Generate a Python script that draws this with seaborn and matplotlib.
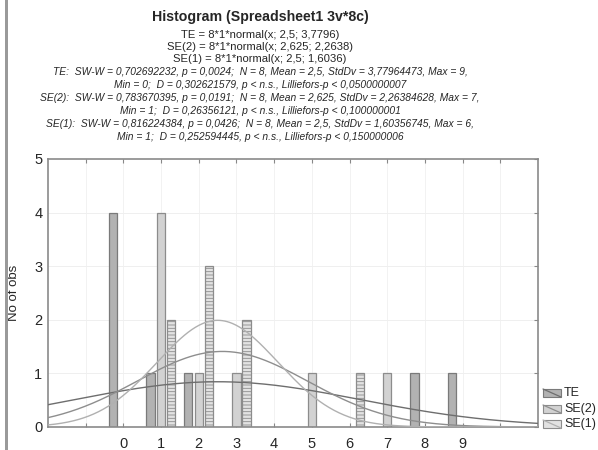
import numpy as np
import pandas as pd
import matplotlib
matplotlib.use("Agg")
import matplotlib.pyplot as plt
from matplotlib.patches import Rectangle
from matplotlib.lines import Line2D
import seaborn as sns

# ---- data ----
categories = [0, 1, 2, 3, 4, 5, 6, 7, 8, 9]
te_counts  = [4, 1, 1, 0, 0, 0, 0, 0, 1, 1]
se2_counts = [0, 4, 1, 1, 0, 1, 0, 1, 0, 0]
se1_counts = [0, 2, 3, 2, 0, 0, 1, 0, 0, 0]
series_names = ["TE", "SE(2)", "SE(1)"]
means = [2.5, 2.625, 2.5]
sds = [3.7796, 2.2638, 1.6036]
n_obs = 8
x_ticklabels = ["0", "1", "2", "3", "4", "5", "6", "7", "8", "9"]

title = "Histogram (Spreadsheet1 3v*8c)"
formula_lines = [
    "TE = 8*1*normal(x; 2,5; 3,7796)",
    "SE(2) = 8*1*normal(x; 2,625; 2,2638)",
    "SE(1) = 8*1*normal(x; 2,5; 1,6036)",
]
stat_lines = [
    "TE:  SW-W = 0,702692232, p = 0,0024;  N = 8, Mean = 2,5, StdDv = 3,77964473, Max = 9,",
    "Min = 0;  D = 0,302621579, p < n.s., Lilliefors-p < 0,0500000007",
    "SE(2):  SW-W = 0,783670395, p = 0,0191;  N = 8, Mean = 2,625, StdDv = 2,26384628, Max = 7,",
    "Min = 1;  D = 0,26356121, p < n.s., Lilliefors-p < 0,100000001",
    "SE(1):  SW-W = 0,816224384, p = 0,0426;  N = 8, Mean = 2,5, StdDv = 1,60356745, Max = 6,",
    "Min = 1;  D = 0,252594445, p < n.s., Lilliefors-p < 0,150000006",
]

# ---- style ----
sns.set_style("white")
plt.rcParams["font.family"] = ["Liberation Sans", "DejaVu Sans"]
plt.rcParams["hatch.color"] = "#9a9a9a"
plt.rcParams["hatch.linewidth"] = 0.6

W, H = 598, 450
fig = plt.figure(figsize=(W / 100, H / 100), dpi=100)
fig.patch.set_facecolor("white")

left, right, top, bottom = 48, 538, 159, 427
ax = fig.add_axes([left / W, 1 - bottom / H, (right - left) / W, (bottom - top) / H])

bar_fills = ["#b2b2b2", "#d2d2d2", "#e2e2e2"]
bar_edges = ["#7a7a7a", "#8c8c8c", "#8c8c8c"]
hatches = [None, None, "-----"]
line_colors = ["#6e6e6e", "#8e8e8e", "#b0b0b0"]
offsets = [-0.28, 0.0, 0.27]
bw = 0.22

# gridlines
for yv in range(1, 5):
    ax.axhline(yv, color="#ececec", lw=0.6, zorder=0)
for xv in range(-1, 11):
    ax.axvline(xv, color="#f0f0f0", lw=0.6, zorder=0)

all_counts = [te_counts, se2_counts, se1_counts]
rows = []
for name, counts, off in zip(series_names, all_counts, offsets):
    for c, v in zip(categories, counts):
        if v > 0:
            rows.append({"series": name, "x": c + off, "count": v})
df = pd.DataFrame(rows)

for i, name in enumerate(series_names):
    sub = df[df["series"] == name]
    ax.bar(sub["x"], sub["count"], width=bw, color=bar_fills[i],
           edgecolor=bar_edges[i], linewidth=0.9, hatch=hatches[i], zorder=2)

# fitted normal curves
xs = np.linspace(-2, 11, 400)
curve_rows = []
for name, m, s in zip(series_names, means, sds):
    ys = n_obs * 1 * np.exp(-0.5 * ((xs - m) / s) ** 2) / (s * np.sqrt(2 * np.pi))
    curve_rows.append(pd.DataFrame({"x": xs, "y": ys, "series": name}))
cdf = pd.concat(curve_rows)
sns.lineplot(data=cdf, x="x", y="y", hue="series", palette=dict(zip(series_names, line_colors)),
             linewidth=1.0, legend=False, ax=ax, zorder=3, sort=False, estimator=None)

ax.set_xlim(-2, 11)
ax.set_ylim(0, 5)
ax.set_xticks(range(-1, 11))
ax.set_xticklabels([""] + x_ticklabels + [""])
ax.set_yticks(range(0, 6))
ax.set_xlabel("")
ax.set_ylabel("No of obs", fontsize=9.5)
ax.yaxis.set_label_coords((20 - left) / (right - left), 0.5)
ax.tick_params(axis="both", direction="in", length=3, color="#888888", labelsize=10.5,
               top=True, right=True, bottom=True, left=False)
ax.tick_params(axis="x", pad=7)
ax.tick_params(axis="y", pad=4)
for sp in ax.spines.values():
    sp.set_color("#8a8a8a")
    sp.set_linewidth(1.2)
    sp.set_visible(True)

# ---- texts ----
cx = 260 / W
fig.text(cx, 1 - 17 / H, title, ha="center", va="center", fontsize=10.2, fontweight="bold")
for k, t in enumerate(formula_lines):
    fig.text(cx, 1 - (35 + 12 * k) / H, t, ha="center", va="center", fontsize=8.1)
for k, t in enumerate(stat_lines):
    fig.text(cx, 1 - (72 + 13 * k) / H, t, ha="center", va="center", fontsize=7.4, style="italic")

# ---- legend ----
leg_y = [393, 409, 424]
for i, name in enumerate(series_names):
    y0 = leg_y[i]
    fig.add_artist(Rectangle((543 / W, 1 - (y0 + 4) / H), 18 / W, 8 / H,
                             transform=fig.transFigure, facecolor=bar_fills[i],
                             edgecolor=bar_edges[i], linewidth=0.8))
    fig.add_artist(Line2D([543 / W, 561 / W], [1 - (y0 - 4) / H, 1 - (y0 + 4) / H],
                          transform=fig.transFigure, color=line_colors[i], lw=0.9))
    fig.text(564 / W, 1 - y0 / H, name, ha="left", va="center", fontsize=9)

# left border of the screenshot
fig.add_artist(Rectangle((5 / W, 0), 3 / W, 1, transform=fig.transFigure,
                         facecolor="#9a9a9a", edgecolor="none"))

fig.savefig("out.png", dpi=100)
